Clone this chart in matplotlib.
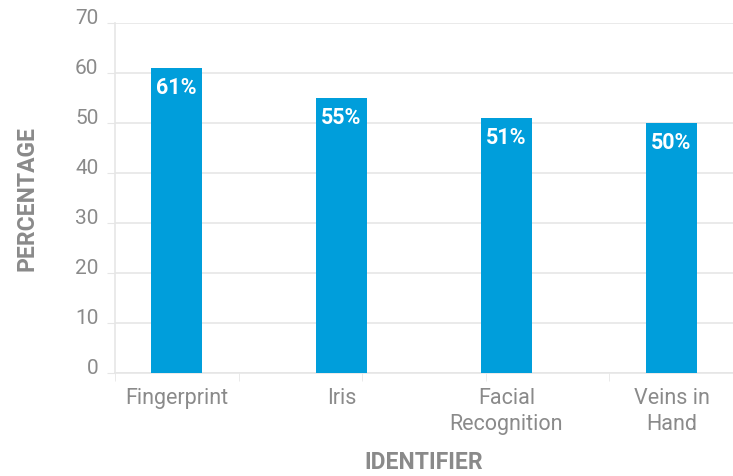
import numpy as np
import matplotlib.pyplot as plt
from matplotlib.transforms import ScaledTranslation

plt.rcParams['font.family'] = ['Roboto', 'DejaVu Sans']

identifiers = ["Fingerprint", "Iris", "Facial\nRecognition", "Veins in\nHand"]
percentages = [61, 55, 51, 50]
y_ticks = [0, 10, 20, 30, 40, 50, 60, 70]

bar_color = "#009EDB"
text_gray = "#8a8a8a"
grid_gray = "#e6e6e6"

fig = plt.figure(figsize=(7.33, 4.77), dpi=100)
ax = fig.add_axes([0.157, 0.216, 0.843, 0.734])

x = np.arange(len(identifiers))
bars = ax.bar(x, percentages, width=0.305, color=bar_color, zorder=3)

for rect, val in zip(bars, percentages):
    ax.annotate(f"{val}%", (rect.get_x() + rect.get_width() / 2, val),
                xytext=(0, -19), textcoords="offset pixels",
                ha="center", va="center", color="white",
                fontsize=15.5, fontweight="bold", zorder=4)

ax.set_xlim(-0.372, 3.33)
ax.set_ylim(0, 70)

ax.set_yticks(y_ticks)
ax.yaxis.grid(True, color=grid_gray, linewidth=1.2, zorder=0)
ax.tick_params(axis="y", length=6, color=grid_gray, labelcolor=text_gray,
               labelsize=15, pad=6)
for lbl in ax.get_yticklabels():
    lbl.set_transform(lbl.get_transform() + ScaledTranslation(0, 7 / 100, fig.dpi_scale_trans))

# category labels at bar centres, tick marks on their own grid
ax.set_xticks(x)
ax.set_xticklabels(identifiers, linespacing=1.3)
ax.tick_params(axis="x", length=0, labelcolor=text_gray, labelsize=15.5, pad=10)
ax.set_xticks(np.arange(-0.372, 3.4, 0.749), minor=True)
ax.tick_params(axis="x", which="minor", length=6, color=grid_gray)

for side in ["top", "right"]:
    ax.spines[side].set_visible(False)
ax.spines["left"].set_color(grid_gray)
ax.spines["bottom"].set_color(grid_gray)
ax.spines["left"].set_linewidth(1.2)
ax.spines["bottom"].set_linewidth(1.2)

ax.set_ylabel("PERCENTAGE", color=text_gray, fontsize=16.5, fontweight="bold", labelpad=26)
ax.set_xlabel("IDENTIFIER", color=text_gray, fontsize=16.5, fontweight="bold", labelpad=12)

fig.savefig("out.png", dpi=100)
